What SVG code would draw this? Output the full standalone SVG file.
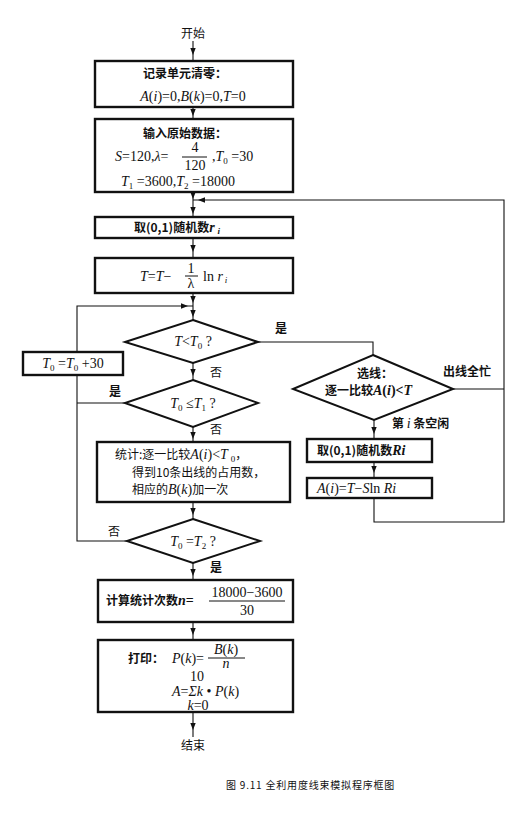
<svg xmlns="http://www.w3.org/2000/svg" width="521" height="814" viewBox="0 0 521 814">
<style>
.bx{fill:#fff;stroke:#111;stroke-width:2.4}
.dm{fill:#fff;stroke:#111;stroke-width:2}
.ln{fill:none;stroke:#111;stroke-width:1.1}
.ah{fill:#111;stroke:none}
.cn{font-family:"Noto Sans CJK SC","Liberation Sans",sans-serif;font-size:12px;font-weight:bold;fill:#111}
.cl{font-family:"Noto Sans CJK SC","Liberation Sans",sans-serif;font-size:12px;fill:#111}
.m{font-family:"Liberation Serif","DejaVu Serif",serif;font-size:14px;fill:#111}
.i{font-style:italic}
.s{font-size:9px}
.cap{font-family:"Noto Sans CJK SC","Liberation Sans",sans-serif;font-size:10px;fill:#111;letter-spacing:0.8px}
</style>
<rect width="521" height="814" fill="#fff"/>

<g id="connectors">
<path class="ln" d="M193,41 L193,61 M193,107 L193,119 M193,192 L193,217 M193,238 L193,258 M193,293 L193,320 M193,363 L193,380 M193,427 L193,442 M193,502 L193,519 M193,563 L193,580 M193,622 L193,640 M193,712 L193,737"/>
<path class="ln" d="M127,541 L77,541 L77,375"/>
<path class="ln" d="M125,403 L77,403"/>
<path class="ln" d="M77,352 L77,306 L193,306"/>
<path class="ln" d="M258,342 L373,342 L373,355"/>
<path class="ln" d="M374,420 L374,439 M374,462 L374,478"/>
<path class="ln" d="M374,497 L374,522 L504,522 L504,200 L193,200"/>
<path class="ln" d="M453,389 L504,389"/>
<path class="ah" d="M190.3,48 L195.7,48 L193,55 Z"/>
<path class="ah" d="M190.3,109 L195.7,109 L193,116 Z"/>
<path class="ah" d="M190.3,192 L195.7,192 L193,199 Z"/>
<path class="ah" d="M190.3,207 L195.7,207 L193,214 Z"/>
<path class="ah" d="M190.3,245 L195.7,245 L193,252 Z"/>
<path class="ah" d="M190.3,296 L195.7,296 L193,303 Z"/>
<path class="ah" d="M190.3,310 L195.7,310 L193,317 Z"/>
<path class="ah" d="M190.3,369 L195.7,369 L193,376 Z"/>
<path class="ah" d="M190.3,432 L195.7,432 L193,439 Z"/>
<path class="ah" d="M190.3,508 L195.7,508 L193,515 Z"/>
<path class="ah" d="M190.3,569 L195.7,569 L193,576 Z"/>
<path class="ah" d="M190.3,628 L195.7,628 L193,635 Z"/>
<path class="ah" d="M190.3,723 L195.7,723 L193,730 Z"/>
<path class="ah" d="M371.3,427 L376.7,427 L374,434 Z"/>
<path class="ah" d="M371.3,466 L376.7,466 L374,473 Z"/>
<path class="ah" d="M181,303.3 L181,308.7 L188,306 Z"/>
<path class="ah" d="M205,197.3 L205,202.7 L198,200 Z"/>
</g>

<g id="start"><text class="cl" x="193" y="38" text-anchor="middle">开始</text></g>

<g id="init">
<rect class="bx" x="95" y="61" width="198" height="46"/>
<text class="cn" x="185" y="78" text-anchor="middle">记录单元清零：</text>
<text class="m" x="193" y="101" text-anchor="middle"><tspan class="i">A</tspan>(<tspan class="i">i</tspan>)=0,<tspan class="i">B</tspan>(<tspan class="i">k</tspan>)=0,<tspan class="i">T</tspan>=0</text>
</g>

<g id="input">
<rect class="bx" x="95" y="119" width="198" height="73"/>
<text class="cn" x="185" y="138" text-anchor="middle">输入原始数据：</text>
<text class="m" x="115" y="161"><tspan class="i">S</tspan>=120,<tspan class="i">λ</tspan>=</text>
<text class="m" x="195" y="152" text-anchor="middle">4</text>
<line x1="182" y1="157" x2="207" y2="157" stroke="#111" stroke-width="1"/>
<text class="m" x="195" y="170" text-anchor="middle">120</text>
<text class="m" x="212" y="161">,<tspan class="i">T</tspan><tspan class="s" dy="3">0</tspan><tspan dy="-3"> =30</tspan></text>
<text class="m" x="121" y="186"><tspan class="i">T</tspan><tspan class="s" dy="3">1</tspan><tspan dy="-3"> =3600,</tspan><tspan class="i">T</tspan><tspan class="s" dy="3">2</tspan><tspan dy="-3"> =18000</tspan></text>
</g>

<g id="rand">
<rect class="bx" x="95" y="217" width="198" height="21"/>
<text class="cn" x="134" y="232">取(0,1)随机数<tspan class="m i">r</tspan><tspan class="m i s" dx="3" dy="2">i</tspan></text>
</g>

<g id="timeupd">
<rect class="bx" x="95" y="258" width="198" height="35"/>
<text class="m" x="140" y="281"><tspan class="i">T</tspan>=<tspan class="i">T</tspan>−</text>
<text class="m" x="191" y="273" text-anchor="middle" font-size="12">1</text>
<line x1="185" y1="276" x2="198" y2="276" stroke="#111" stroke-width="1"/>
<text class="m" x="191" y="288" text-anchor="middle" font-size="12">λ</text>
<text class="m" x="203" y="281">ln  <tspan class="i">r</tspan><tspan class="i s" dx="2" dy="2">i</tspan></text>
</g>

<g id="d1">
<polygon class="dm" points="193,320 258,342 193,363 125,342"/>
<text class="m" x="193" y="346" text-anchor="middle"><tspan class="i">T</tspan>&lt;<tspan class="i">T</tspan><tspan class="s" dy="3">0</tspan><tspan dy="-3"> ?</tspan></text>
<text class="cn" x="275" y="333">是</text>
<text class="cl" x="210" y="377">否</text>
</g>

<g id="t0inc">
<rect class="bx" x="23" y="352" width="100" height="23"/>
<text class="m" x="73" y="368" text-anchor="middle"><tspan class="i">T</tspan><tspan class="s" dy="3">0</tspan><tspan dy="-3"> =</tspan><tspan class="i">T</tspan><tspan class="s" dy="3">0</tspan><tspan dy="-3"> +30</tspan></text>
</g>

<g id="d2">
<polygon class="dm" points="193,380 258,403 193,427 125,403"/>
<text class="m" x="193" y="408" text-anchor="middle"><tspan class="i">T</tspan><tspan class="s" dy="3">0</tspan><tspan dy="-3"> ≤</tspan><tspan class="i">T</tspan><tspan class="s" dy="3">1</tspan><tspan dy="-3">  ?</tspan></text>
<text class="cn" x="109" y="396">是</text>
<text class="cl" x="210" y="434">否</text>
</g>

<g id="stat">
<rect class="bx" x="97" y="442" width="193" height="60"/>
<text class="cl" x="115" y="459">统计:逐一比较<tspan class="m i">A</tspan><tspan class="m">(</tspan><tspan class="m i">i</tspan><tspan class="m">)&lt;</tspan><tspan class="m i">T</tspan><tspan class="m s" dx="3" dy="3">0</tspan><tspan dy="-3">，</tspan></text>
<text class="cl" x="132" y="477">得到10条出线的占用数，</text>
<text class="cl" x="132" y="494">相应的<tspan class="m i">B</tspan><tspan class="m">(</tspan><tspan class="m i">k</tspan><tspan class="m">)</tspan>加一次</text>
</g>

<g id="d3">
<polygon class="dm" points="193,519 260,541 193,563 127,541"/>
<text class="m" x="193" y="546" text-anchor="middle"><tspan class="i">T</tspan><tspan class="s" dy="3">0</tspan><tspan dy="-3"> =</tspan><tspan class="i">T</tspan><tspan class="s" dy="3">2</tspan><tspan dy="-3"> ?</tspan></text>
<text class="cl" x="108" y="536">否</text>
<text class="cn" x="210" y="572">是</text>
</g>

<g id="calc">
<rect class="bx" x="98" y="580" width="195" height="42"/>
<text class="cn" x="106" y="605">计算统计次数<tspan class="m i">n</tspan><tspan class="m">=</tspan></text>
<text class="m" x="247" y="597" text-anchor="middle" font-size="13">18000−3600</text>
<line x1="209" y1="601" x2="285" y2="601" stroke="#111" stroke-width="1"/>
<text class="m" x="247" y="615" text-anchor="middle" font-size="13">30</text>
</g>

<g id="print">
<rect class="bx" x="98" y="640" width="195" height="72"/>
<text class="cn" x="128" y="663">打印：</text>
<text class="m" x="172" y="663" font-size="13"><tspan class="i">P</tspan>(<tspan class="i">k</tspan>)=</text>
<text class="m" x="226" y="654" text-anchor="middle" font-size="12"><tspan class="i">B</tspan>(<tspan class="i">k</tspan>)</text>
<line x1="208" y1="658" x2="245" y2="658" stroke="#111" stroke-width="1"/>
<text class="m i" x="226" y="668" text-anchor="middle" font-size="10">n</text>
<text class="m" x="197" y="681" text-anchor="middle" font-size="10">10</text>
<text class="m" x="172" y="696" font-size="12"><tspan class="i">A</tspan>=<tspan class="i">Σk</tspan> • <tspan class="i">P</tspan>(<tspan class="i">k</tspan>)</text>
<text class="m" x="198" y="710" text-anchor="middle" font-size="10"><tspan class="i">k</tspan>=0</text>
</g>

<g id="end"><text class="cl" x="193" y="750" text-anchor="middle">结束</text></g>

<g id="select">
<polygon class="dm" points="373,355 453,389 374,420 293,389"/>
<text class="cn" x="375" y="378" text-anchor="middle">选线：</text>
<text class="cn" x="325" y="395">逐一比较<tspan class="m i">A</tspan><tspan class="m">(</tspan><tspan class="m i">i</tspan><tspan class="m">)&lt;</tspan><tspan class="m i">T</tspan></text>
<text class="cn" x="443" y="376">出线全忙</text>
<text class="cn" x="392" y="428">第 <tspan class="m i" font-weight="normal">i</tspan> 条空闲</text>
</g>

<g id="randRi">
<rect class="bx" x="307" y="439" width="125" height="23"/>
<text class="cn" x="317" y="455">取(0,1)随机数<tspan class="m i">Ri</tspan></text>
</g>

<g id="assign">
<rect class="bx" x="307" y="478" width="125" height="20"/>
<text class="m" x="317" y="493"><tspan class="i">A</tspan>(<tspan class="i">i</tspan>)=<tspan class="i">T</tspan>−<tspan class="i">S</tspan>ln <tspan class="i">Ri</tspan></text>
</g>

<g id="caption"><text class="cap" x="226" y="789">图 9.11   全利用度线束模拟程序框图</text></g>
</svg>
